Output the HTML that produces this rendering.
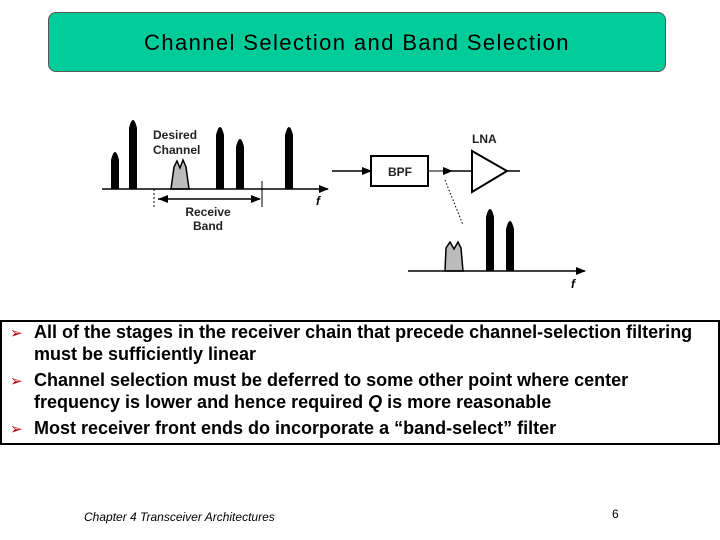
<!DOCTYPE html>
<html><head><meta charset="utf-8"><style>
body{margin:0;width:720px;height:540px;background:#fff;position:relative;overflow:hidden;font-family:"Liberation Sans",sans-serif}
.title{position:absolute;left:48px;top:12px;width:616px;height:58px;background:#00cc99;border:1px solid #555;border-radius:8px;text-align:center;line-height:60px;font-size:22px;letter-spacing:1.4px;color:#000}
.box{position:absolute;left:0px;top:320px;width:716px;height:121px;border:2px solid #000}
.l{position:absolute;left:34px;font-size:18px;font-weight:bold;white-space:nowrap}
.b{position:absolute;left:10px;font-size:15px;color:#b00}
</style></head><body>
<div class="title">Channel Selection and Band Selection</div>
<svg width="720" height="540" style="position:absolute;left:0;top:0" font-family="Liberation Sans, sans-serif">
<defs><marker id="a" markerWidth="10" markerHeight="8" refX="9" refY="4" orient="auto" markerUnits="userSpaceOnUse"><path d="M0,0 L10,4 L0,8 Z" fill="#000"/></marker></defs>
<g fill="#000">
<path d="M111,189 L111,160 Q115,144 119,160 L119,189Z"/>
<path d="M129,189 L129,128 Q133,112 137,128 L137,189Z"/>
<path d="M216,189 L216,135 Q220,119 224,135 L224,189Z"/>
<path d="M236,189 L236,147 Q240,131 244,147 L244,189Z"/>
<path d="M285,189 L285,135 Q289,119 293,135 L293,189Z"/>
<path d="M486,271 L486,217 Q490,201 494,217 L494,271Z"/>
<path d="M506,271 L506,229 Q510,213 514,229 L514,271Z"/>
</g>
<path d="M171,189 L174,167 L177,161 L180,168 L183,160 L186,167 L189,189Z" fill="#bbb" stroke="#000" stroke-width="1.5"/>
<path d="M445,271 L446,248 L450,242 L454,249 L458,242 L461,248 L463,271Z" fill="#bbb" stroke="#000" stroke-width="1.5"/>
<line x1="102" y1="189" x2="328" y2="189" stroke="#000" stroke-width="1.5" marker-end="url(#a)"/>
<line x1="408" y1="271" x2="585" y2="271" stroke="#000" stroke-width="1.5" marker-end="url(#a)"/>
<line x1="154" y1="189" x2="154" y2="207" stroke="#000" stroke-dasharray="2,2"/>
<line x1="262" y1="181" x2="262" y2="207" stroke="#000"/>
<line x1="158" y1="199" x2="260" y2="199" stroke="#000" stroke-width="1.5" marker-end="url(#a)"/>
<path d="M158,199 L168,195 L168,203Z"/>
<text x="153" y="139" font-size="12" font-weight="bold" fill="#222">Desired</text>
<text x="153" y="154" font-size="12" font-weight="bold" fill="#222">Channel</text>
<text x="208" y="216" font-size="12" font-weight="bold" text-anchor="middle" fill="#222">Receive</text>
<text x="208" y="230" font-size="12" font-weight="bold" text-anchor="middle" fill="#222">Band</text>
<text x="316" y="205" font-size="12" font-style="italic" font-weight="bold">f</text>
<text x="571" y="288" font-size="12" font-style="italic" font-weight="bold">f</text>
<line x1="332" y1="171" x2="371" y2="171" stroke="#000" stroke-width="1.5" marker-end="url(#a)"/>
<rect x="371" y="156" width="57" height="30" fill="#fff" stroke="#000" stroke-width="2"/>
<text x="400" y="176" font-size="12" font-weight="bold" text-anchor="middle" fill="#222">BPF</text>
<line x1="428" y1="171" x2="452" y2="171" stroke="#000" stroke-width="1" marker-end="url(#a)"/>
<line x1="450" y1="171" x2="472" y2="171" stroke="#000" stroke-width="1.5"/>
<path d="M472,151 L507,171 L472,192Z" fill="#fff" stroke="#000" stroke-width="2"/>
<line x1="507" y1="171" x2="520" y2="171" stroke="#000" stroke-width="1.5"/>
<text x="472" y="143" font-size="12" font-weight="bold" fill="#222">LNA</text>
<line x1="445" y1="180" x2="463" y2="225" stroke="#000" stroke-dasharray="1.5,2"/>
</svg>
<div class="box"></div>
<div class="b" style="top:324px">➢</div><div class="l" style="top:322px">All of the stages in the receiver chain that precede channel-selection filtering</div>
<div class="l" style="top:344px">must be sufficiently linear</div>
<div class="b" style="top:372px">➢</div><div class="l" style="top:370px">Channel selection must be deferred to some other point where center</div>
<div class="l" style="top:392px">frequency is lower and hence required <i>Q</i> is more reasonable</div>
<div class="b" style="top:420px">➢</div><div class="l" style="top:418px">Most receiver front ends do incorporate a “band-select” filter</div>
<div style="position:absolute;left:84px;top:510px;font-size:12px;font-style:italic">Chapter 4 Transceiver Architectures</div>
<div style="position:absolute;left:612px;top:507px;font-size:12px">6</div>
</body></html>
